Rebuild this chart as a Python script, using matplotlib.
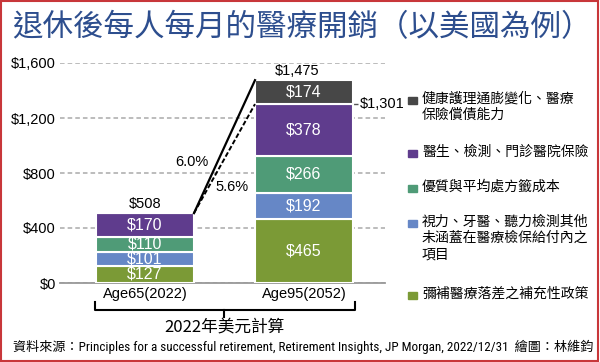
import matplotlib
matplotlib.use("Agg")
import matplotlib.pyplot as plt
from matplotlib import font_manager as fm
from matplotlib.patches import Rectangle
from matplotlib.lines import Line2D
import numpy as np

plt.rcParams['font.family'] = ['Liberation Sans', 'Noto Sans CJK TC']

# --- data ---
groups = ['Age65(2022)', 'Age95(2052)']
supplemental = [127, 465]   # 彌補醫療落差之補充性政策
vision = [101, 192]         # 視力、牙醫、聽力...
drugs = [110, 266]          # 優質與平均處方籤成本
doctors = [170, 378]        # 醫生、檢測、門診醫院保險
inflation = [0, 174]        # 健康護理通膨變化、醫療保險償債能力
growth_labels = ['6.0%', '5.6%']

series = [supplemental, vision, drugs, doctors, inflation]
colors = ['#7b9a36', '#6687c6', '#4f9b77', '#5f3c8d', '#474747']
legend_labels = ['健康護理通膨變化、醫療\n保險償債能力',
                 '醫生、檢測、門診醫院保險',
                 '優質與平均處方籤成本',
                 '視力、牙醫、聽力檢測其他\n未涵蓋在醫療檢保給付內之\n項目',
                 '彌補醫療落差之補充性政策']
legend_colors = colors[::-1]

W, H = 600, 362
fig = plt.figure(figsize=(6, 3.62), dpi=100)
ax = fig.add_axes([60 / W, 79 / H, 325 / W, 220 / H])

x = np.arange(len(groups))
width = 0.616
bottom = np.zeros(len(groups))
for vals, c in zip(series, colors):
    vals = np.array(vals)
    ax.bar(x, vals, width, bottom=bottom, color=c,
           edgecolor='white', linewidth=1.5, zorder=3)
    for xi, v, b in zip(x, vals, bottom):
        if v > 0:
            ax.text(xi, b + v / 2, f'${v:,}', ha='center', va='center',
                    color='white', fontsize=11.5, zorder=4)
    bottom = bottom + vals

totals = bottom
base = totals - np.array(inflation)   # 1,301 without inflation

ax.set_xlim(-0.535, 1.51)
ax.set_ylim(0, 1600)
ax.set_yticks([0, 400, 800, 1200, 1600])
ax.set_yticklabels(['$0', '$400', '$800', '$1,200', '$1,600'], fontsize=10.5)
ax.set_xticks(x)
ax.set_xticklabels(groups, fontsize=10.5)
ax.tick_params(length=0, pad=3)
ax.grid(axis='y', ls=(0, (3, 2)), color='#aaaaaa', lw=1.1, zorder=0)
for s in ['top', 'right', 'left']:
    ax.spines[s].set_visible(False)
ax.spines['bottom'].set_color('#999999')
ax.spines['bottom'].set_linewidth(1.3)

# totals
ax.text(x[0], totals[0] + 15, f'${totals[0]:,.0f}', ha='center', va='bottom', fontsize=10.5)
ax.text(x[1] - 0.04, totals[1] + 15, f'${totals[1]:,.0f}', ha='center', va='bottom', fontsize=10.5)
ax.plot([x[1] + width / 2, x[1] + width / 2 + 0.035], [base[1], base[1]],
        color='#555555', lw=1, ls='--', clip_on=False)
ax.text(x[1] + width / 2 + 0.045, base[1], f'${base[1]:,.0f}', ha='left', va='center',
        fontsize=10.5)

# growth lines
x0 = x[0] + width / 2
x1 = x[1] - width / 2
ax.plot([x0, x1], [totals[0], totals[1]], color='black', lw=1.6, zorder=5)
ax.plot([x0, x1], [totals[0], base[1]], color='black', lw=1.4, ls=(0, (2.5, 1.2)), zorder=5)
ax.text(0.295, 880, growth_labels[0], ha='center', va='center', fontsize=10.5)
ax.text(0.55, 698, growth_labels[1], ha='center', va='center', fontsize=10.5)

# title
fig.text(302 / W, 1 - 28 / H, '退休後每人每月的醫療開銷（以美國為例）', ha='center', va='center',
         fontsize=22, color='#2d4e8e', family=['Noto Sans CJK TC'], weight='medium')

# legend
first_line_y = [100, 153, 188, 223, 295]
for lab, c, yc in zip(legend_labels, legend_colors, first_line_y):
    fig.patches.append(Rectangle((408 / W, 1 - (yc + 3.5) / H), 9 / W, 7 / H,
                                 transform=fig.transFigure, color=c, figure=fig))
    fig.text(422 / W, 1 - (yc - 8) / H, lab, ha='left', va='top', fontsize=10,
             linespacing=1.2, family=['Noto Sans CJK TC'])

# bracket under x labels
def fl(xs, ys, **kw):
    fig.lines.append(Line2D([v / W for v in xs], [1 - v / H for v in ys],
                            transform=fig.transFigure, figure=fig, color='black', **kw))

fl([95, 95, 355, 355], [302, 310, 310, 302], lw=1.5)
fl([224, 224], [310, 317], lw=1.5)
fig.text(224 / W, 1 - 328 / H, '2022年美元計算', ha='center', va='center', fontsize=12,
         family=['Noto Sans CJK TC'])

# source line: pick a narrow latin face if one is installed
names = {f.name for f in fm.fontManager.ttflist}
narrow = [n for n in ['Liberation Sans Narrow', 'Arial Narrow', 'Roboto Condensed',
                      'Open Sans Condensed', 'DejaVu Sans Condensed'] if n in names]
src_family = (narrow[:1] or ['Liberation Sans']) + ['Noto Sans CJK TC']
src = fig.text(13 / W, 1 - 347 / H,
               '資料來源：Principles for a successful retirement, Retirement Insights, JP Morgan, 2022/12/31  繪圖：林維鈞',
               ha='left', va='center', fontsize=10, family=src_family)
r = fig.canvas.get_renderer()
w = src.get_window_extent(r).width
if w > 575:
    src.set_fontsize(10 * 575 / w)

# frame
fig.patches.append(Rectangle((0.002, 0.004), 0.995, 0.993, transform=fig.transFigure,
                             fill=False, edgecolor='#c8373a', lw=1.5, figure=fig))

fig.savefig('out.png', dpi=100)
